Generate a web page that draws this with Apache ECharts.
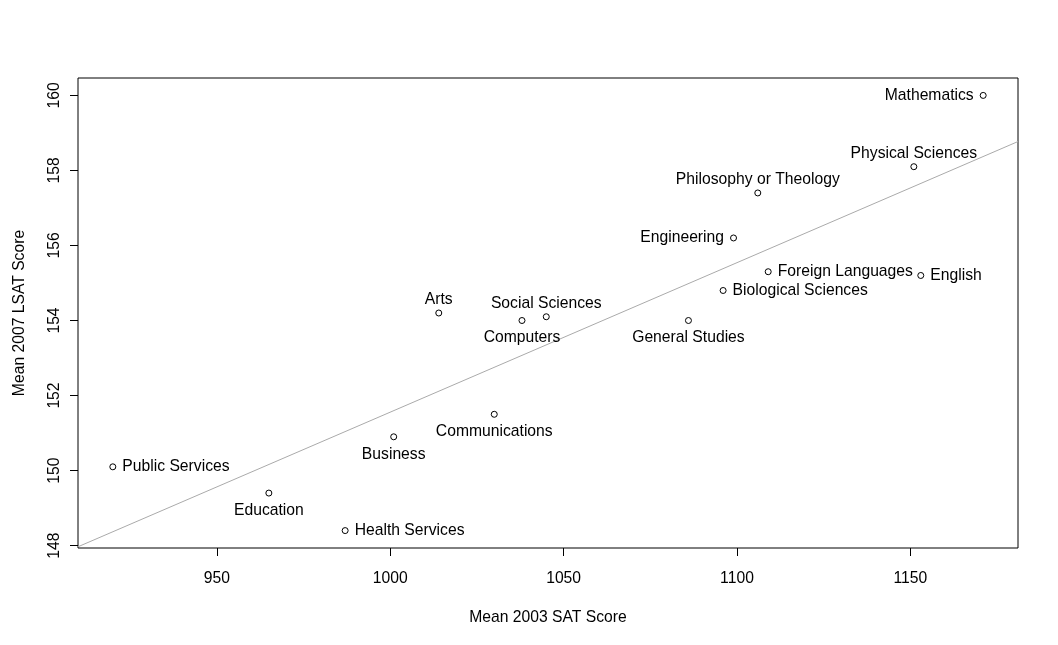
<!DOCTYPE html>
<html>
<head>
<meta charset="utf-8">
<script src="https://cdn.jsdelivr.net/npm/echarts@6/dist/echarts.min.js"></script>
<style>
html,body{margin:0;padding:0;background:#fff;}
#chart{width:1058px;height:645px;}
</style>
</head>
<body>
<div id="chart"></div>
<script>
// ---- data ----
const categories = ["Mathematics","Physical Sciences","Philosophy or Theology","Engineering","Foreign Languages","English","Biological Sciences","Arts","Computers","Social Sciences","General Studies","Communications","Business","Public Services","Education","Health Services"];
const satScores  = [1171, 1151, 1106, 1099, 1109, 1153, 1096, 1014, 1038, 1045, 1086, 1030, 1001, 920, 965, 987];
const lsatScores = [160.0, 158.1, 157.4, 156.2, 155.3, 155.2, 154.8, 154.2, 154.0, 154.1, 154.0, 151.5, 150.9, 150.1, 149.4, 148.4];
const xTicks = [950, 1000, 1050, 1100, 1150];
const yTicks = [148, 150, 152, 154, 156, 158, 160];
const xTitle = "Mean 2003 SAT Score";
const yTitle = "Mean 2007 LSAT Score";

// ---- label placement (style) ----
const labelSide = {
  "Mathematics":"left","Physical Sciences":"top","Philosophy or Theology":"top","Engineering":"left",
  "Foreign Languages":"right","English":"right","Biological Sciences":"right","Arts":"top",
  "Computers":"bottom","Social Sciences":"top","General Studies":"bottom","Communications":"bottom",
  "Business":"bottom","Public Services":"right","Education":"bottom","Health Services":"right"
};

// R-style axis extents (4% padding)
function ext(a){const mn=Math.min(...a),mx=Math.max(...a),r=mx-mn;return [mn-0.04*r,mx+0.04*r];}
const xr = ext(satScores), yr = ext(lsatScores);

// least squares fit
const n = satScores.length;
const mx = satScores.reduce((s,v)=>s+v,0)/n, my = lsatScores.reduce((s,v)=>s+v,0)/n;
let sxy=0,sxx=0;
for(let i=0;i<n;i++){sxy+=(satScores[i]-mx)*(lsatScores[i]-my);sxx+=(satScores[i]-mx)**2;}
const slope = sxy/sxx, icpt = my - slope*mx;

const FONT = "'Liberation Sans', Arial, Helvetica, sans-serif";
const FS = 15.7;
const dist = {left:6, right:6, top:1.5, bottom:6};

const pts = categories.map((c,i)=>{
  const side = labelSide[c];
  return {name:c, value:[satScores[i], lsatScores[i]],
    label:{show:true, position:side, distance: dist[side], formatter:c}};
});

const chart = echarts.init(document.getElementById('chart'), null, {renderer:'canvas'});
chart.setOption({
  animation:false,
  backgroundColor:'#fff',
  grid:{left:78, right:40, top:78, bottom:97, show:true, borderColor:'#000', borderWidth:1, backgroundColor:'transparent'},
  xAxis:{
    type:'value', min:xr[0], max:xr[1],
    name:xTitle, nameLocation:'middle', nameGap:62,
    nameTextStyle:{color:'#000', fontFamily:FONT, fontSize:FS},
    axisLine:{show:false},
    axisTick:{show:true, length:8, lineStyle:{color:'#000'}, customValues:xTicks},
    axisLabel:{color:'#000', fontFamily:FONT, fontSize:FS, margin:23, customValues:xTicks, formatter:v=>String(v)},
    splitLine:{show:false}
  },
  yAxis:{
    type:'value', min:yr[0], max:yr[1],
    name:yTitle, nameLocation:'middle', nameGap:50, nameRotate:90,
    nameTextStyle:{color:'#000', fontFamily:FONT, fontSize:FS},
    axisLine:{show:false},
    axisTick:{show:true, length:8, lineStyle:{color:'#000'}, customValues:yTicks},
    axisLabel:{color:'#000', fontFamily:FONT, fontSize:FS, margin:15, rotate:90, customValues:yTicks, formatter:v=>String(v)},
    splitLine:{show:false}
  },
  series:[
    {type:'line', silent:true, symbol:'none', clip:true,
     data:[[xr[0], icpt+slope*xr[0]],[xr[1], icpt+slope*xr[1]]],
     lineStyle:{color:'#aaaaaa', width:1}, z:1},
    {type:'scatter', data:pts, symbol:'circle', symbolSize:6,
     itemStyle:{color:'#fff', borderColor:'#000', borderWidth:1, opacity:1},
     label:{color:'#000', fontFamily:FONT, fontSize:FS},
     labelLayout:{hideOverlap:false}, z:2}
  ]
});
</script>
</body>
</html>
